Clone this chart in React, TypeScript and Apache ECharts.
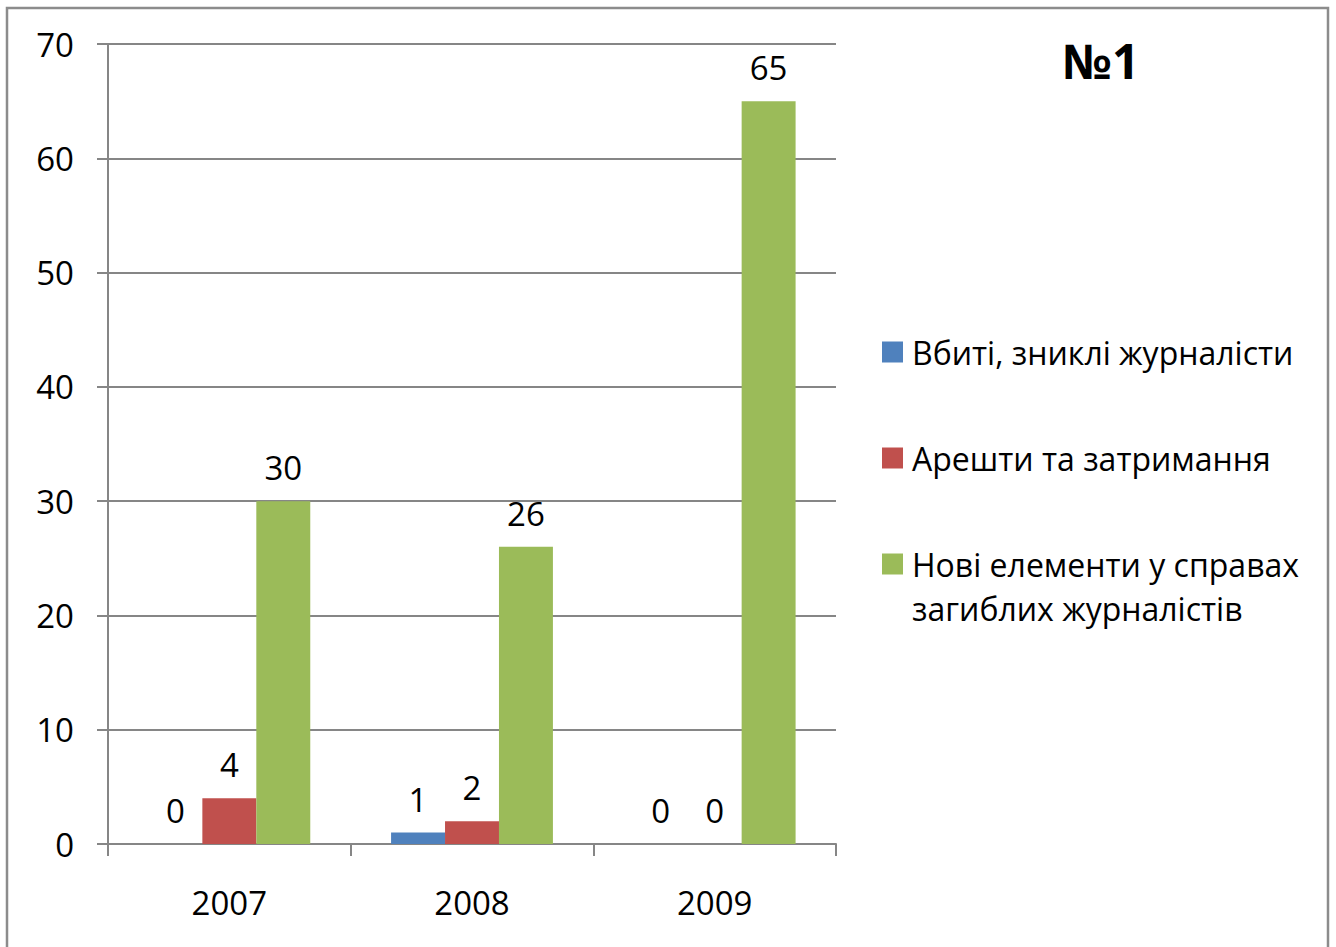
import React, { useEffect, useRef } from "react";
import * as echarts from "echarts";

const categories = ["2007", "2008", "2009"];
const seriesNames = [
  "Вбиті, зниклі журналісти",
  "Арешти та затримання",
  "Нові елементи у справах",
];
const killed = [0, 1, 0];
const arrests = [4, 2, 0];
const newElements = [30, 26, 65];
const legendSecondLine = "загиблих журналістів";
const titleText = "№1";

const FONT = "'Open Sans', sans-serif";
const GRAY = "#868686";

export default function App() {
  const ref = useRef<HTMLDivElement>(null);
  useEffect(() => {
    if (!ref.current) return;
    const chart = echarts.init(ref.current, undefined, { renderer: "svg" });
    const label = {
      show: true,
      position: "top" as const,
      distance: 17,
      color: "#000",
      fontFamily: FONT,
      fontSize: 33,
    };
    chart.setOption({
      animation: false,
      backgroundColor: "#fff",
      title: {
        text: titleText,
        left: 1101,
        top: 36,
        padding: 0,
        textAlign: "center",
        textStyle: { fontFamily: FONT, fontWeight: "bold", fontSize: 48, color: "#000" },
      },
      legend: {
        orient: "vertical",
        left: 882,
        top: 334,
        padding: 0,
        itemWidth: 21,
        itemHeight: 21,
        itemGap: 70,
        icon: "rect",
        data: seriesNames,
        textStyle: {
          fontFamily: FONT,
          fontSize: 32,
          color: "#000",
          lineHeight: 36,
          padding: [0, 0, 0, 4],
        },
      },
      graphic: [
        {
          type: "rect",
          shape: { x: 7, y: 8, width: 1321, height: 960 },
          style: { fill: "none", stroke: "#8c8c8c", lineWidth: 2.5 },
          silent: true,
        },
        {
          type: "text",
          left: 912,
          top: 592,
          style: {
            text: legendSecondLine,
            fontFamily: FONT,
            fontSize: 32,
            fill: "#000",
          },
        },
      ],
      grid: { left: 108, right: 500, top: 44, bottom: 103, containLabel: false },
      xAxis: {
        type: "category",
        data: categories,
        axisLine: { lineStyle: { color: GRAY, width: 2 } },
        axisTick: { show: true, length: 12, lineStyle: { color: GRAY, width: 2 } },
        axisLabel: { margin: 42, color: "#000", fontFamily: FONT, fontSize: 33 },
      },
      yAxis: {
        type: "value",
        min: 0,
        max: 70,
        interval: 10,
        axisLine: { show: true, lineStyle: { color: GRAY, width: 2 } },
        axisTick: { show: true, length: 11, lineStyle: { color: GRAY, width: 2 } },
        splitLine: { lineStyle: { color: GRAY, width: 2 } },
        axisLabel: { margin: 34, color: "#000", fontFamily: FONT, fontSize: 33 },
      },
      series: [
        { name: seriesNames[0], type: "bar", data: killed, itemStyle: { color: "#4F81BD" }, barGap: "0%", barCategoryGap: "33.3%", label },
        { name: seriesNames[1], type: "bar", data: arrests, itemStyle: { color: "#C0504D" }, label },
        { name: seriesNames[2], type: "bar", data: newElements, itemStyle: { color: "#9BBB59" }, label },
      ],
    });
    return () => chart.dispose();
  }, []);
  return (
    <div
      ref={ref}
      style={{ position: "fixed", left: 0, top: 0, width: 1336, height: 947 }}
    />
  );
}
